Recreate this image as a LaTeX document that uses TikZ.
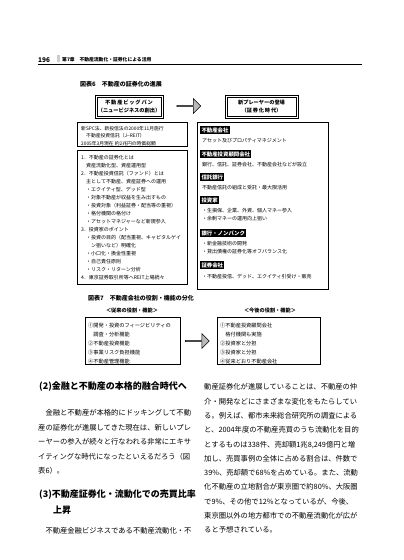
\documentclass[tikz,border=0pt]{standalone}
\usepackage{fontspec}
\setmainfont{Noto Sans CJK JP}
\usetikzlibrary{shapes.arrows}
\begin{document}
\begin{tikzpicture}[x = 1pt, y = -1pt,
  frame/.style = {draw, line width = 0.9pt},
  tag/.style = {fill = black, text = white, font = \fontsize{5.4}{6}\selectfont\bfseries, inner sep = 1.3pt, anchor = west},
  small/.style = {font = \fontsize{5}{6}\selectfont, inner sep = 0pt, anchor = base west},
  body/.style = {font = \fontsize{7.3}{8}\selectfont, inner sep = 0pt, anchor = base west},
  head/.style = {font = \fontsize{9}{10}\selectfont\bfseries, inner sep = 0pt, anchor = base west},
  title/.style = {font = \fontsize{6}{7}\selectfont\bfseries, inner sep = 0pt, anchor = base west},
  fat/.style = {single arrow, draw, fill = gray!55, line width = 0.5pt, minimum height = 24pt, minimum width = 15pt, single arrow head extend = 2.5pt, inner sep = 0pt}]
\useasboundingbox (0,0) rectangle (404,560);
% running head
\node[inner sep = 0pt, anchor = base west, font = \fontsize{6.5}{7}\selectfont\bfseries\itshape] (page) at (38,62) {196};
\fill[gray!40] (57,55) rectangle (59.5,62);
\node[inner sep = 0pt, anchor = base west, font = \fontsize{4.8}{5}\selectfont\bfseries] (chap) at (62,61.5) {第7章\quad 不動産流動化・証券化による活用};
\draw[line width = 0.7pt] (38,64) -- (362,64);
% figure 6
\node[title] (fig6) at (80,86) {図表6\quad 不動産の証券化の進展};
\draw[line width = 1pt] (95,95) rectangle (163,118);
\draw[line width = 0.4pt] (96.8,96.8) rectangle (161.2,116.2);
\node[align = center, font = \fontsize{5.2}{8}\selectfont\bfseries] (bigbang) at (129,106.5) {不\,動\,産\,ビ\,ッ\,グ\,バ\,ン\\（ニュービジネスの創出）};
\draw[line width = 1pt] (225,95) rectangle (298,118);
\draw[line width = 0.4pt] (226.8,96.8) rectangle (296.2,116.2);
\node[align = center, font = \fontsize{5.2}{8}\selectfont\bfseries] (player) at (261.5,106.5) {新プレーヤーの登場\\（証\,券\,化\,時\,代）};
\node[fat] (arr1) at (188.5,106) {};
\draw[frame] (77,122) rectangle (187,146);
\node[small, font = \fontsize{4.8}{6}\selectfont] (spc1) at (81,130) {新SPC法、新投信法の2000年11月施行};
\node[small, font = \fontsize{4.8}{6}\selectfont] (spc2) at (86,137.5) {不動産投資信託（J−REIT）};
\node[small, font = \fontsize{4.8}{6}\selectfont] (spc3) at (81,145) {2005年3月現在 約2兆円の時価総額};
% left box
\draw[frame] (77,150) rectangle (187,284);
\foreach \t [count = \i] in {1．不動産の証券化とは, \quad 資産流動化型、資産運用型, 2．不動産投資信託（ファンド）とは,
  \quad 主として不動産、資産証券への運用, \quad ・エクイティ型、デッド型, \quad ・対象不動産が収益を生み出すもの,
  \quad ・投資対象（利益証券・配当等の重視）, \quad ・格付機関の格付け, \quad ・アセットマネジャーなど新規参入,
  3．投資家のポイント, \quad ・投資の目的（配当重視、キャピタルゲイ, \quad\quad ン狙いなど）明確化,
  \quad ・小口化・換金性重視, \quad ・自己責任原則, \quad ・リスク・リターン分析, 4．東京証券取引所等へREIT上場続々}
  \node[small] (lb-\i) at (81,151+8*\i) {\t};
% right box
\draw[frame] (197,122) rectangle (328,289);
\node[tag] (t1) at (200,130) {不動産会社};
\node[small] (s1) at (202,142) {アセット及びプロパティマネジメント};
\node[tag] (t2) at (200,154) {不動産投資顧問会社};
\node[small] (s2) at (202,166) {銀行、信託、証券会社、不動産会社などが設立};
\node[tag] (t3) at (200,177) {信託銀行};
\node[small] (s3) at (202,189) {不動産信託の組成と受託・最大限活用};
\node[tag] (t4) at (200,200) {投資家};
\node[small] (s4) at (202,212) {・生損保、企業、外資、個人マネー参入};
\node[small] (s5) at (202,220) {・余剰マネーの運用向上狙い};
\node[tag] (t5) at (200,233) {銀行・ノンバンク};
\node[small] (s6) at (202,245) {・新金融技術の開発};
\node[small] (s7) at (202,253) {・貸出債権の証券化等オフバランス化};
\node[tag] (t6) at (200,265) {証券会社};
\node[small] (s8) at (202,278) {・不動産投信、デッド、エクイティ引受け・販売};
% figure 7
\node[title] (fig7) at (88,300) {図表7\quad 不動産会社の役割・機能の分化};
\node[font = \fontsize{5.2}{6}\selectfont\bfseries, inner sep = 0pt] (old) at (132,311) {＜従来の役割・機能＞};
\node[font = \fontsize{5.2}{6}\selectfont\bfseries, inner sep = 0pt] (new) at (270,311) {＜今後の役割・機能＞};
\draw[frame] (85,317) rectangle (180,364);
\foreach \t [count = \i] in {①開発・投資のフィージビリティの, \quad 調査・分析機能, ②不動産投資機能, ③事業リスク負担機能, ④不動産管理機能}
  \node[small, font = \fontsize{5.2}{6}\selectfont] (ol-\i) at (88,318+9*\i) {\t};
\node[fat] (arr2) at (197,341) {};
\draw[frame] (217,317) rectangle (320,364);
\foreach \t [count = \i] in {①不動産投資顧問会社, \quad 格付機関も実施, ②投資家と分担, ③投資家と分担, ④従来どおり不動産会社}
  \node[small, font = \fontsize{5.2}{6}\selectfont] (nl-\i) at (220,318+9*\i) {\t};
% left column
\node[head] (h2) at (39,389) {(2)金融と不動産の本格的融合時代へ};
\foreach \t [count = \i] in {\hspace{7.3pt}金融と不動産が本格的にドッキングして不動, 産の証券化が進展してきた現在は、新しいプレ,
  ーヤーの参入が続々と行なわれる非常にエキサ, イティングな時代になったといえるだろう（図, 表6）。}
  \node[body] (lc-\i) at (38,401.5+14.4*\i) {\t};
\node[head] (h3) at (39,497) {(3)不動産証券化・流動化での売買比率};
\node[head] (h3b) at (53,513) {上昇};
\node[body] (lc-6) at (38,533) {\hspace{7.3pt}不動産金融ビジネスである不動産流動化・不};
% right column
\foreach \t [count = \i] in {動産証券化が進展していることは、不動産の仲, 介・開発などにさまざまな変化をもたらしてい,
  る。例えば、都市未来総合研究所の調査による, と、2004年度の不動産売買のうち流動化を目的,
  {とするものは338件、売却額1兆8,249億円と増}, 加し、売買事例の全体に占める割合は、件数で,
  39\%、売却額で68\%を占めている。また、流動, 化不動産の立地割合が東京圏で約80\%、大阪圏,
  で9\%、その他で12\%となっているが、今後、, 東京圏以外の地方都市での不動産流動化が広が, ると予想されている。}
  \node[body] (rc-\i) at (204,375.5+14.3*\i) {\t};
\end{tikzpicture}
\end{document}
